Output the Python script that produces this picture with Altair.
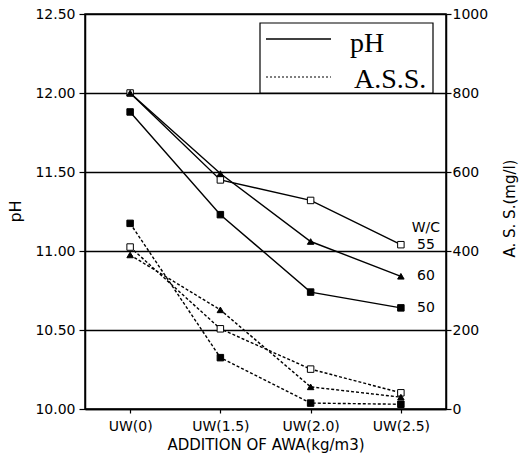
import altair as alt
import pandas as pd

# ---------------- data ----------------
categories = ["UW(0)", "UW(1.5)", "UW(2.0)", "UW(2.5)"]
wc_series = ["50", "55", "60"]
ph_50 = [11.88, 11.23, 10.74, 10.64]
ph_55 = [12.00, 11.45, 11.32, 11.04]
ph_60 = [12.00, 11.49, 11.06, 10.84]
ass_50 = [470, 130, 15, 12]
ass_55 = [410, 203, 101, 41]
ass_60 = [390, 251, 56, 30]
ph_ticks = [10.0, 10.5, 11.0, 11.5, 12.0, 12.5]
ass_ticks = [0, 200, 400, 600, 800, 1000]
legend_labels = ["pH", "A.S.S."]
wc_header = "W/C"
wc_header_ph = 11.145

ph_vals = {"50": ph_50, "55": ph_55, "60": ph_60}
ass_vals = {"50": ass_50, "55": ass_55, "60": ass_60}
ph_df = pd.DataFrame([{"cat": c, "wc": w, "v": ph_vals[w][i]}
                      for w in wc_series for i, c in enumerate(categories)])
ass_df = pd.DataFrame([{"cat": c, "wc": w, "v": ass_vals[w][i]}
                       for w in wc_series for i, c in enumerate(categories)])

FONT = "DejaVu Sans"
x_enc = alt.X("cat:N", sort=categories,
              scale=alt.Scale(type="point", padding=0.5, domain=categories),
              axis=alt.Axis(title="ADDITION OF AWA(kg/m3)", labelAngle=0, grid=False,
                            tickSize=4, labelPadding=6, labelFont=FONT, labelFontSize=14,
                            titleFont=FONT, titleFontSize=15, titleFontWeight="normal",
                            titleY=35, titleBaseline="middle"))

shape_scale = alt.Scale(domain=wc_series, range=["square", "square", "triangle-up"])
fill_scale = alt.Scale(domain=wc_series, range=["black", "white", "black"])

ph_y = alt.Y("v:Q", scale=alt.Scale(domain=[10, 12.5], nice=False, zero=False),
             axis=alt.Axis(orient="left", values=ph_ticks, format=".2f", grid=True,
                           gridColor="black", gridWidth=1.3, tickSize=6, labelPadding=4,
                           labelFont=FONT, labelFontSize=14, title="pH",
                           titleFont=FONT, titleFontSize=16, titleFontWeight="normal",
                           titleAngle=270, titleX=-70, titleY=197,
                           titleBaseline="middle", titleAlign="center"))
ass_y = alt.Y("v:Q", scale=alt.Scale(domain=[0, 1000], nice=False),
              axis=alt.Axis(orient="right", values=ass_ticks, format="d", grid=False,
                            tickSize=5, labelPadding=1, labelFont=FONT, labelFontSize=14,
                            title="A. S. S.(mg/l)", titleFont=FONT, titleFontSize=15,
                            titleFontWeight="normal", titleAngle=270, titleX=63, titleY=194,
                            titleBaseline="middle", titleAlign="center"))

ph_line = alt.Chart(ph_df).mark_line(color="black", strokeWidth=1.4).encode(
    x=x_enc, y=ph_y, detail="wc:N")
ph_pts = alt.Chart(ph_df).mark_point(filled=True, size=42, stroke="black",
                                     strokeWidth=1, opacity=1).encode(
    x=x_enc, y=ph_y,
    shape=alt.Shape("wc:N", scale=shape_scale, legend=None),
    fill=alt.Fill("wc:N", scale=fill_scale, legend=None))
ph_lab = alt.Chart(ph_df).transform_filter(
    alt.datum.cat == categories[-1]).mark_text(
    font=FONT, fontSize=14, align="center", baseline="middle", dx=25).encode(
    x=x_enc, y=ph_y, text="wc:N")
wc_head = alt.Chart(alt.Data(values=[{"cat": categories[-1], "v": wc_header_ph}])).mark_text(
    font=FONT, fontSize=14, align="center", baseline="middle", dx=25, text=wc_header).encode(
    x=x_enc, y=ph_y)
ph_layer = alt.layer(ph_line, ph_pts, ph_lab, wc_head)

ass_line = alt.Chart(ass_df).mark_line(color="black", strokeWidth=1.4,
                                       strokeDash=[3, 2]).encode(
    x=x_enc, y=ass_y, detail="wc:N")
ass_pts = alt.Chart(ass_df).mark_point(filled=True, size=42, stroke="black",
                                       strokeWidth=1, opacity=1).encode(
    x=x_enc, y=ass_y,
    shape=alt.Shape("wc:N", scale=shape_scale, legend=None),
    fill=alt.Fill("wc:N", scale=fill_scale, legend=None))
ass_layer = alt.layer(ass_line, ass_pts)

# ---------------- legend box ----------------
one = alt.Data(values=[{}])
leg_box = alt.Chart(one).mark_rect(fill="white", stroke="black", strokeWidth=1.2).encode(
    x=alt.value(175), x2=alt.value(348), y=alt.value(9), y2=alt.value(79))
leg_solid = alt.Chart(one).mark_rule(color="black", strokeWidth=1.4).encode(
    x=alt.value(181), x2=alt.value(246), y=alt.value(25))
leg_dot = alt.Chart(one).mark_rule(color="black", strokeWidth=1.2, strokeDash=[2, 2]).encode(
    x=alt.value(181), x2=alt.value(246), y=alt.value(63))
leg_t1 = alt.Chart(one).mark_text(font="Liberation Serif", fontSize=28, align="left",
                                  baseline="alphabetic", text=legend_labels[0]).encode(
    x=alt.value(265), y=alt.value(38))
leg_t2 = alt.Chart(one).mark_text(font="Liberation Serif", fontSize=28, align="left",
                                  baseline="alphabetic", text=legend_labels[1]).encode(
    x=alt.value(269), y=alt.value(74))

chart = alt.layer(ph_layer, ass_layer, leg_box, leg_solid, leg_dot, leg_t1, leg_t2
                  ).resolve_scale(y="independent").properties(
    width=361, height=395,
    autosize=alt.AutoSizeParams(type="none"),
    padding={"left": 85, "top": 14, "right": 73, "bottom": 48},
).configure_view(stroke="black", strokeWidth=1.5).configure_axis(
    domainColor="black", domainWidth=1.5, tickColor="black", tickWidth=1.2,
    labelColor="black", titleColor="black")

chart.save("out.html", embed_options={"renderer": "svg", "actions": False})
